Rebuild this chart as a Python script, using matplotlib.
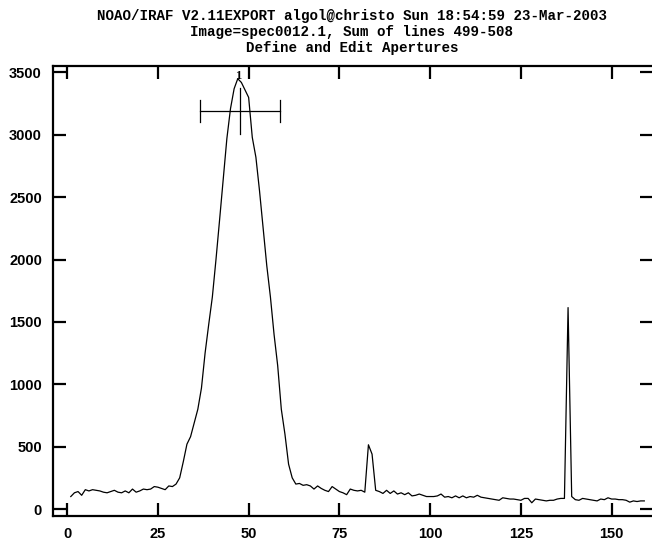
import numpy as np
import matplotlib
matplotlib.use("Agg")
import matplotlib.pyplot as plt

# spectrum (column, summed counts)
pixel = list(range(1, 160))
counts = [
    100, 130, 140, 110, 155, 145, 155, 150, 145, 135,
    130, 140, 150, 135, 130, 145, 130, 160, 135, 145,
    160, 155, 160, 180, 175, 165, 155, 185, 180, 200,
    250, 380, 520, 580, 690, 800, 970, 1250, 1480, 1700,
    2000, 2320, 2650, 2970, 3210, 3370, 3450, 3420, 3360, 3300,
    2980, 2820, 2550, 2250, 1950, 1700, 1400, 1150, 800, 600,
    360, 250, 200, 205, 190, 195, 185, 160, 185, 165,
    150, 140, 180, 160, 140, 130, 115, 160, 150, 145,
    150, 135, 515, 440, 150, 140, 125, 150, 125, 145,
    120, 130, 115, 130, 105, 110, 120, 110, 100, 100,
    100, 105, 120, 95, 100, 90, 105, 90, 105, 90,
    100, 95, 110, 95, 90, 85, 80, 75, 70, 90,
    85, 80, 80, 75, 70, 85, 85, 50, 80, 75,
    70, 65, 70, 70, 80, 85, 85, 1615, 100, 75,
    70, 85, 80, 75, 70, 65, 80, 75, 90, 80,
    80, 75, 75, 70, 55, 65, 60, 65, 65,
]

# aperture 1
ap_id = "1"
ap_center = 47.7
ap_low = 36.6
ap_high = 58.7
ap_bar_y = 3190

title_lines = [
    "NOAO/IRAF V2.11EXPORT algol@christo Sun 18:54:59 23-Mar-2003",
    "Image=spec0012.1, Sum of lines 499-508",
    "Define and Edit Apertures",
]

W, H = 652, 543
fig = plt.figure(figsize=(W / 100, H / 100), dpi=100)
ax = fig.add_axes([53 / W, 1 - 516 / H, (653 - 53) / W, (516 - 66) / H])

ax.plot(pixel, counts, color="black", lw=0.9)

# aperture marker
ax.plot([ap_center, ap_center], [3010, 3375], color="black", lw=0.9)
ax.plot([ap_low, ap_high], [ap_bar_y, ap_bar_y], color="black", lw=0.9)
ax.plot([ap_low, ap_low], [ap_bar_y - 90, ap_bar_y + 90], color="black", lw=0.9)
ax.plot([ap_high, ap_high], [ap_bar_y - 90, ap_bar_y + 90], color="black", lw=0.9)
ax.text(ap_center - 0.6, 3420, ap_id, ha="center", va="bottom",
        fontsize=9, family="Liberation Serif", fontweight="bold")

ax.set_xlim(-3.9, 161.4)
ax.set_ylim(-56, 3552)
ax.set_xticks(range(0, 151, 25))
ax.set_yticks(range(0, 3501, 500))
ax.tick_params(direction="in", length=9.5, width=1.6, top=True, right=True,
               labelsize=10.5, pad=8)
for lab in ax.get_xticklabels() + ax.get_yticklabels():
    lab.set_family("Liberation Sans")
    lab.set_fontweight("bold")
for s in ax.spines.values():
    s.set_linewidth(1.6)

for i, line in enumerate(title_lines):
    fig.text(352 / W, 1 - (16 + 16 * i) / H, line, ha="center", va="center",
             fontsize=10.2, family="Liberation Mono", fontweight="bold")

fig.savefig("out.png", dpi=100)
